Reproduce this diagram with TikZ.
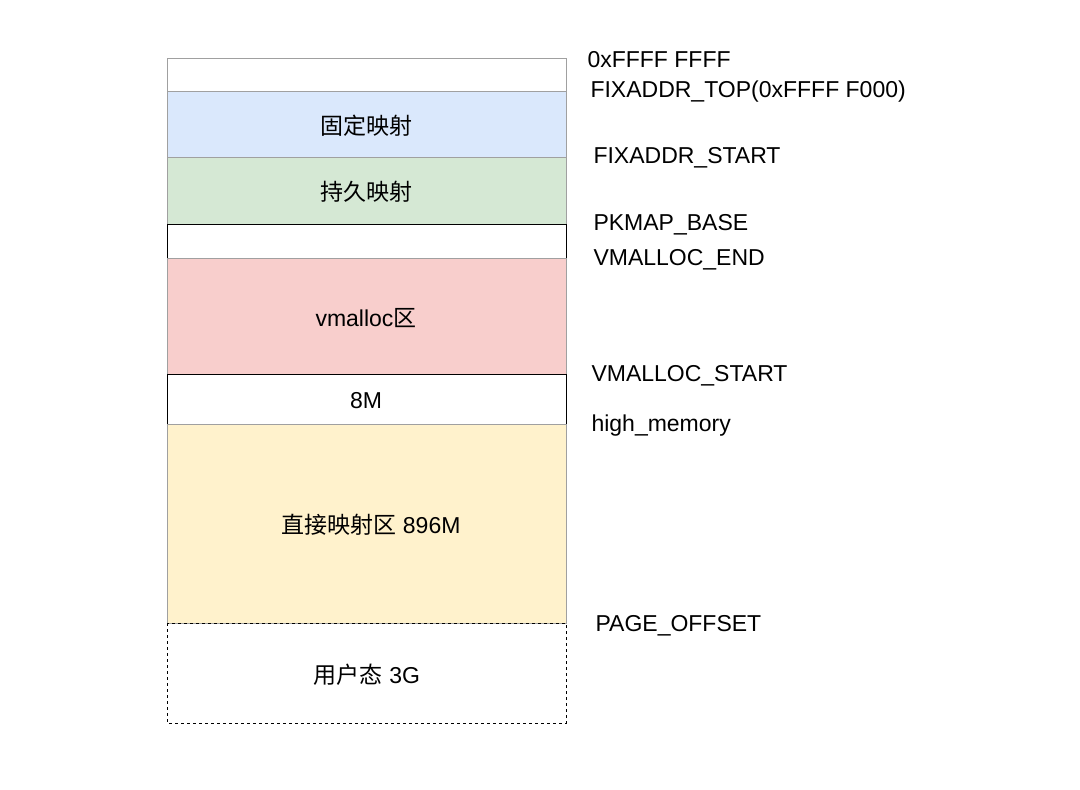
\documentclass[tikz,border=0pt]{standalone}
\usepackage{fontspec}
\setmainfont{Liberation Sans}
\newfontfamily\cjk{Noto Sans CJK SC}
\begin{document}
\begin{tikzpicture}[x=1pt,y=-1pt,
  seg/.style={draw=#1,line width=1pt},
  lab/.style={anchor=west,font=\fontsize{23}{26}\selectfont},
  txt/.style={font=\fontsize{23}{26}\selectfont}]
\definecolor{bl}{HTML}{DAE8FC}\definecolor{gr}{HTML}{D5E8D4}
\definecolor{rd}{HTML}{F8CECC}\definecolor{ye}{HTML}{FFF2CC}
\definecolor{bd}{HTML}{A0A0A0}
\useasboundingbox (0,0) rectangle (1080,790);
\path[fill=white,seg=bd] (167,58) rectangle (566,91);
\path[fill=bl,seg=bd] (167,91) rectangle (566,157);
\path[fill=gr,seg=bd] (167,157) rectangle (566,224);
\path[fill=white,seg=black] (167,224) rectangle (566,258);
\path[fill=rd,seg=bd] (167,258) rectangle (566,374);
\path[fill=white,seg=black] (167,374) rectangle (566,424);
\path[fill=ye,seg=bd] (167,424) rectangle (566,623);
\path[seg=black,dashed] (167,623) rectangle (566,723);
\node[txt] (a) at (366,126) {\cjk 固定映射};
\node[txt] (b) at (366,192) {\cjk 持久映射};
\node[txt] (c) at (366,318) {vmalloc{\cjk 区}};
\node[txt] (d) at (366,401) {8M};
\node[txt] (e) at (371,525) {{\cjk 直接映射区} 896M};
\node[txt] (f) at (367,675) {{\cjk 用户态} 3G};
\node[lab] (l1) at (584,60) {0xFFFF FFFF};
\node[lab] (l2) at (587,92) {FIXADDR\_TOP(0xFFFF F000)};
\node[lab] (l3) at (590,158) {FIXADDR\_START};
\node[lab] (l4) at (590,225) {PKMAP\_BASE};
\node[lab] (l5) at (590,260) {VMALLOC\_END};
\node[lab] (l6) at (588,376) {VMALLOC\_START};
\node[lab] (l7) at (588,426) {high\_memory};
\node[lab] (l8) at (592,626) {PAGE\_OFFSET};
\end{tikzpicture}
\end{document}
